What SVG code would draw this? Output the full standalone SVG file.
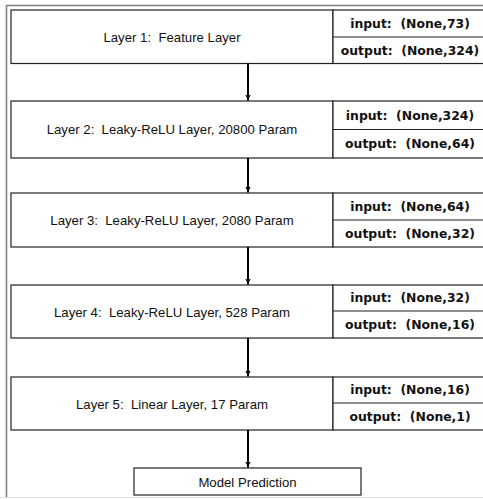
<svg xmlns="http://www.w3.org/2000/svg" width="483" height="499" viewBox="0 0 483 499">
<style>
.box{fill:#fff;stroke:#222;stroke-width:1.2}
.lbl{font-family:"Liberation Sans",Arial,sans-serif;font-size:13.2px;fill:#111;text-anchor:middle;dominant-baseline:central;white-space:pre}
.io{font-family:"DejaVu Sans","Liberation Sans",sans-serif;font-weight:bold;font-size:12.4px;fill:#111;text-anchor:middle;dominant-baseline:central;white-space:pre}
.arr{stroke:#000;stroke-width:2;fill:none;marker-end:url(#ah)}
</style>
<defs>
<marker id="ah" markerWidth="8" markerHeight="8" refX="6" refY="4" orient="auto" markerUnits="userSpaceOnUse">
<path d="M0,1 Q3,3 6,4 Q3,5 0,7 L1.2,4 Z" fill="#000"/>
</marker>
</defs>
<rect width="483" height="499" fill="#fff"/>
<g id="frame">
<path d="M6.5,497 L6.5,5.5 L483,5.5" fill="none" stroke="#808080" stroke-width="1.6"/>
<line x1="0" y1="497.5" x2="483" y2="497.5" stroke="#e0e0e0" stroke-width="1"/>
</g>
<g id="layer1">
<rect class="box" x="11" y="10" width="322" height="53.5"/>
<rect class="box" x="333" y="10" width="160" height="53.5"/>
<line class="box" x1="333" y1="37" x2="493" y2="37"/>
<text class="lbl" x="172" y="37" xml:space="preserve">Layer 1:  Feature Layer</text>
<text class="io" x="410" y="23" xml:space="preserve">input:  (None,73)</text>
<text class="io" x="410" y="50" xml:space="preserve">output:  (None,324)</text>
</g>
<g id="layer2">
<rect class="box" x="11" y="101" width="322" height="57"/>
<rect class="box" x="333" y="101" width="160" height="57"/>
<line class="box" x1="333" y1="129.5" x2="493" y2="129.5"/>
<text class="lbl" x="172" y="129" xml:space="preserve">Layer 2:  Leaky-ReLU Layer, 20800 Param</text>
<text class="io" x="410" y="115" xml:space="preserve">input:  (None,324)</text>
<text class="io" x="410" y="143.5" xml:space="preserve">output:  (None,64)</text>
</g>
<g id="layer3">
<rect class="box" x="11" y="193" width="322" height="54"/>
<rect class="box" x="333" y="193" width="160" height="54"/>
<line class="box" x1="333" y1="220" x2="493" y2="220"/>
<text class="lbl" x="172" y="220.5" xml:space="preserve">Layer 3:  Leaky-ReLU Layer, 2080 Param</text>
<text class="io" x="410" y="206" xml:space="preserve">input:  (None,64)</text>
<text class="io" x="410" y="233" xml:space="preserve">output:  (None,32)</text>
</g>
<g id="layer4">
<rect class="box" x="11" y="285" width="322" height="53"/>
<rect class="box" x="333" y="285" width="160" height="53"/>
<line class="box" x1="333" y1="311" x2="493" y2="311"/>
<text class="lbl" x="172" y="312" xml:space="preserve">Layer 4:  Leaky-ReLU Layer, 528 Param</text>
<text class="io" x="410" y="297.5" xml:space="preserve">input:  (None,32)</text>
<text class="io" x="410" y="324.5" xml:space="preserve">output:  (None,16)</text>
</g>
<g id="layer5">
<rect class="box" x="11" y="377" width="322" height="53"/>
<rect class="box" x="333" y="377" width="160" height="53"/>
<line class="box" x1="333" y1="403" x2="493" y2="403"/>
<text class="lbl" x="172" y="404" xml:space="preserve">Layer 5:  Linear Layer, 17 Param</text>
<text class="io" x="410" y="389.5" xml:space="preserve">input:  (None,16)</text>
<text class="io" x="410" y="416.5" xml:space="preserve">output:  (None,1)</text>
</g>
<g id="prediction">
<rect class="box" x="134" y="468" width="227" height="27"/>
<text class="lbl" x="247.5" y="482">Model Prediction</text>
</g>
<g id="connectors">
<line class="arr" x1="248" y1="63.5" x2="248" y2="100.5"/>
<line class="arr" x1="248" y1="158" x2="248" y2="192.5"/>
<line class="arr" x1="248" y1="247" x2="248" y2="284.5"/>
<line class="arr" x1="248" y1="338" x2="248" y2="376.5"/>
<line class="arr" x1="248" y1="430" x2="248" y2="467.5"/>
</g>
</svg>
